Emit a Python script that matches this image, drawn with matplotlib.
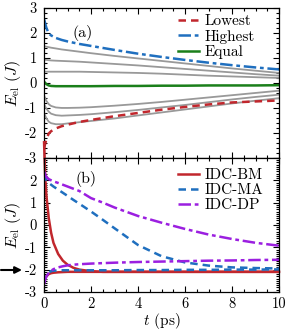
import matplotlib
matplotlib.use('Agg')
import matplotlib.pyplot as plt
from matplotlib.ticker import MultipleLocator

plt.rcParams['font.family'] = 'serif'
plt.rcParams['font.serif'] = ['cmr10']
plt.rcParams['mathtext.fontset'] = 'cm'
plt.rcParams['axes.unicode_minus'] = False

# panel (a)
t_a = [0, 0.1, 0.2, 0.3, 0.5, 0.75, 1, 1.5, 2, 3, 4, 5, 6, 7, 8, 9, 10]
highest = [2.55, 2.2, 1.98, 1.9, 1.8, 1.72, 1.66, 1.56, 1.48, 1.32, 1.17, 1.04, 0.92, 0.81, 0.71, 0.62, 0.54]
lowest = [-2.6, -2.25, -2.02, -1.93, -1.82, -1.73, -1.67, -1.56, -1.48, -1.33, -1.2, -1.07, -0.96, -0.86, -0.78, -0.74, -0.7]
equal = [0.05, -0.05, -0.1, -0.12, -0.13, -0.13, -0.13, -0.13, -0.13, -0.12, -0.12, -0.11, -0.11, -0.1, -0.1, -0.1, -0.09]
gray_a = [
    [1.47, 1.45, 1.43, 1.41, 1.38, 1.34, 1.31, 1.25, 1.19, 1.08, 0.98, 0.88, 0.78, 0.68, 0.58, 0.49, 0.4],
    [0.93, 0.92, 0.91, 0.9, 0.89, 0.88, 0.87, 0.85, 0.82, 0.76, 0.7, 0.63, 0.56, 0.49, 0.42, 0.35, 0.29],
    [0.45, 0.45, 0.45, 0.45, 0.45, 0.45, 0.45, 0.45, 0.44, 0.42, 0.4, 0.37, 0.33, 0.29, 0.26, 0.23, 0.2],
    [-0.5, -0.72, -0.85, -0.92, -0.98, -1.0, -1.0, -0.99, -0.97, -0.91, -0.84, -0.76, -0.67, -0.58, -0.49, -0.4, -0.31],
    [-0.85, -1.03, -1.15, -1.23, -1.29, -1.31, -1.3, -1.28, -1.25, -1.17, -1.08, -0.98, -0.88, -0.77, -0.66, -0.56, -0.47],
    [-1.2, -1.42, -1.55, -1.61, -1.65, -1.65, -1.62, -1.57, -1.52, -1.42, -1.3, -1.18, -1.06, -0.94, -0.82, -0.71, -0.61],
]

# panel (b)
t_b = [0, 0.05, 0.1, 0.2, 0.3, 0.4, 0.6, 0.8, 1, 1.25, 1.5, 2, 2.5, 3, 4, 5, 6, 7, 8, 9, 10]
bm_up = [3.7, 2.1, 1.3, 0.3, -0.35, -0.8, -1.3, -1.6, -1.78, -1.92, -2.0, -2.07, -2.1, -2.1, -2.1, -2.1, -2.1, -2.1, -2.1, -2.1, -2.1]
bm_low = [-2.6, -2.4, -2.3, -2.2, -2.16, -2.14, -2.12, -2.11, -2.1, -2.1, -2.1, -2.1, -2.1, -2.1, -2.1, -2.1, -2.1, -2.1, -2.1, -2.1, -2.1]
ma_up = [2.3, 2.12, 2.0, 1.88, 1.8, 1.72, 1.58, 1.44, 1.3, 1.12, 0.95, 0.6, 0.23, -0.15, -0.9, -1.4, -1.68, -1.82, -1.9, -1.93, -1.95]
ma_low = [-2.6, -2.4, -2.25, -2.12, -2.07, -2.05, -2.04, -2.03, -2.03, -2.03, -2.03, -2.03, -2.03, -2.03, -2.02, -2.02, -2.01, -2.01, -2.0, -2.0, -1.99]
dp_up = [2.4, 2.25, 2.15, 2.05, 2.0, 1.95, 1.88, 1.8, 1.72, 1.62, 1.52, 1.2, 1.0, 0.78, 0.4, 0.1, -0.18, -0.43, -0.63, -0.8, -0.93]
dp_low = [-2.65, -2.45, -2.3, -2.15, -2.05, -1.98, -1.9, -1.85, -1.81, -1.78, -1.76, -1.73, -1.71, -1.69, -1.66, -1.64, -1.62, -1.6, -1.59, -1.57, -1.56]

RED = '#c1272d'
BLUE = '#1f6fbf'
GREEN = '#1a7f1a'
PURPLE = '#9b1fe0'
GRAY = '#999999'
DASH = (0, (3, 2))
DASHDOT = (0, (5, 1.5, 1.5, 1.5))

fig, (ax1, ax2) = plt.subplots(2, 1, figsize=(2.88, 3.31), dpi=100, sharex=True,
                               gridspec_kw={'height_ratios': [150, 134], 'hspace': 0})
fig.subplots_adjust(left=0.153, right=0.969, top=0.976, bottom=0.118)

for g in gray_a:
    ax1.plot(t_a, g, color=GRAY, lw=1.3)
ax1.plot(t_a, lowest, color=RED, lw=1.8, ls=DASH, label='Lowest')
ax1.plot(t_a, highest, color=BLUE, lw=1.8, ls=DASHDOT, label='Highest')
ax1.plot(t_a, equal, color=GREEN, lw=1.8, label='Equal')
ax1.set_ylim(-3, 3)
ax1.set_yticks([-3, -2, -1, 0, 1, 2, 3])
ax1.yaxis.set_minor_locator(MultipleLocator(0.2))
ax1.text(0.165, 0.83, '(a)', transform=ax1.transAxes, ha='center', va='center', fontsize=11.5)
ax1.legend(loc='upper left', bbox_to_anchor=(0.57, 0.955), frameon=False, fontsize=11,
           handlelength=1.4, handletextpad=0.35, labelspacing=0.08, borderpad=0, borderaxespad=0)

ax2.plot(t_b, bm_up, color=RED, lw=1.8, label='IDC-BM', clip_on=False)
ax2.plot(t_b, bm_low, color=RED, lw=1.8)
ax2.plot(t_b, ma_up, color=BLUE, lw=1.8, ls=DASH, label='IDC-MA')
ax2.plot(t_b, ma_low, color=BLUE, lw=1.8, ls=DASH)
ax2.plot(t_b, dp_up, color=PURPLE, lw=1.8, ls=DASHDOT, label='IDC-DP')
ax2.plot(t_b, dp_low, color=PURPLE, lw=1.8, ls=DASHDOT)
ax2.set_ylim(-3, 3)
ax2.set_yticks([-3, -2, -1, 0, 1, 2])
ax2.yaxis.set_minor_locator(MultipleLocator(0.1))
ax2.text(0.18, 0.84, '(b)', transform=ax2.transAxes, ha='center', va='center', fontsize=11.5)
ax2.legend(loc='upper left', bbox_to_anchor=(0.57, 0.92), frameon=False, fontsize=11,
           handlelength=1.4, handletextpad=0.35, labelspacing=0.08, borderpad=0, borderaxespad=0)
ax2.set_xlim(0, 10)
ax2.set_xticks([0, 2, 4, 6, 8, 10])
ax2.xaxis.set_minor_locator(MultipleLocator(0.5))
ax2.set_xlabel(r'$t$ (ps)', fontsize=11, labelpad=0)

for ax in (ax1, ax2):
    ax.tick_params(which='both', direction='in', top=True, right=True, labelsize=10.5, width=0.8)
    ax.tick_params(axis='y', pad=5)
    ax.tick_params(axis='x', pad=4)
    ax.tick_params(which='major', length=4)
    ax.tick_params(which='minor', length=2)
    ax.set_ylabel(r'$E_{\rm el}\ (J)$', fontsize=11.5, labelpad=1.5)
    for s in ax.spines.values():
        s.set_linewidth(0.9)

# arrow marking -2 in panel (b)
ax2.annotate('', xy=(22, 61), xytext=(1, 61), xycoords='figure pixels',
             textcoords='figure pixels',
             arrowprops=dict(arrowstyle='-|>', color='black', lw=1.5, mutation_scale=10,
                             shrinkA=0, shrinkB=0))

fig.savefig('out.png', dpi=100)
